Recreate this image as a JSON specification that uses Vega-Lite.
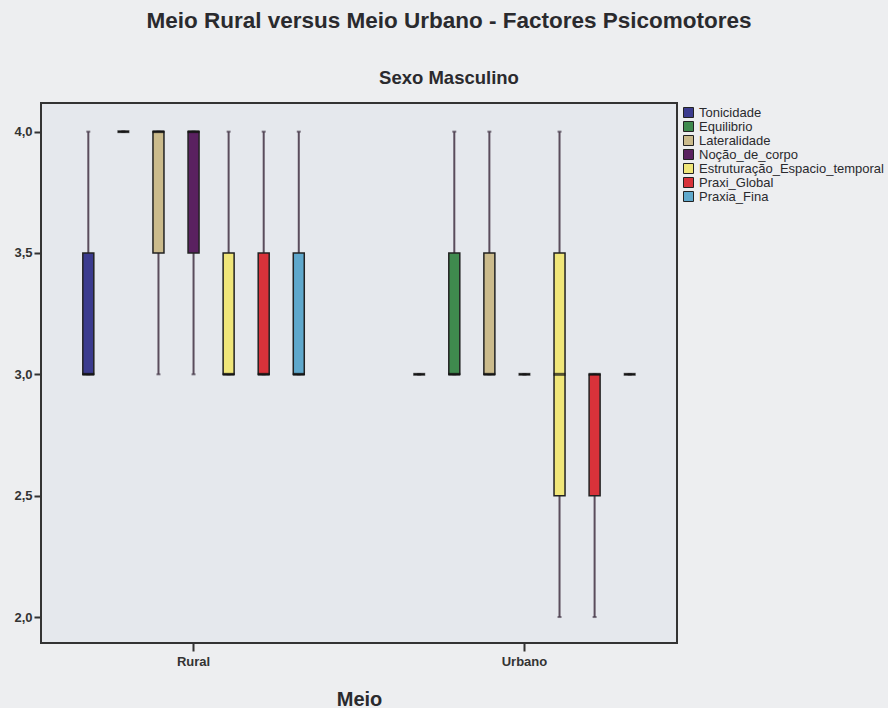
{
  "$schema": "https://vega.github.io/schema/vega-lite/v6.json",
  "autosize": {"type": "none"},
  "width": 636,
  "height": 540,
  "padding": {"left": 41, "top": 103, "right": 211, "bottom": 65},
  "background": "#edeef0",
  "title": {
    "text": "Meio Rural versus Meio Urbano - Factores Psicomotores",
    "subtitle": "Sexo Masculino",
    "font": "Liberation Sans",
    "subtitleFont": "Liberation Sans",
    "fontSize": 22.5,
    "subtitleFontSize": 18.5,
    "fontWeight": "bold",
    "subtitleFontWeight": "bold",
    "color": "#2a2a2e",
    "subtitleColor": "#2a2a2e",
    "anchor": "middle",
    "frame": "group",
    "dx": 90,
    "offset": 16,
    "subtitlePadding": 36
  },
  "data": {
    "values": [
      {"meio": "Rural", "fator": "Tonicidade", "min": 3, "q1": 3, "med": 3, "q3": 3.5, "max": 4},
      {"meio": "Rural", "fator": "Equilibrio", "min": 4, "q1": 4, "med": 4, "q3": 4, "max": 4},
      {"meio": "Rural", "fator": "Lateralidade", "min": 3, "q1": 3.5, "med": 4, "q3": 4, "max": 4},
      {"meio": "Rural", "fator": "Noção_de_corpo", "min": 3, "q1": 3.5, "med": 4, "q3": 4, "max": 4},
      {"meio": "Rural", "fator": "Estruturação_Espacio_temporal", "min": 3, "q1": 3, "med": 3, "q3": 3.5, "max": 4},
      {"meio": "Rural", "fator": "Praxi_Global", "min": 3, "q1": 3, "med": 3, "q3": 3.5, "max": 4},
      {"meio": "Rural", "fator": "Praxia_Fina", "min": 3, "q1": 3, "med": 3, "q3": 3.5, "max": 4},
      {"meio": "Urbano", "fator": "Tonicidade", "min": 3, "q1": 3, "med": 3, "q3": 3, "max": 3},
      {"meio": "Urbano", "fator": "Equilibrio", "min": 3, "q1": 3, "med": 3, "q3": 3.5, "max": 4},
      {"meio": "Urbano", "fator": "Lateralidade", "min": 3, "q1": 3, "med": 3, "q3": 3.5, "max": 4},
      {"meio": "Urbano", "fator": "Noção_de_corpo", "min": 3, "q1": 3, "med": 3, "q3": 3, "max": 3},
      {"meio": "Urbano", "fator": "Estruturação_Espacio_temporal", "min": 2, "q1": 2.5, "med": 3, "q3": 3.5, "max": 4},
      {"meio": "Urbano", "fator": "Praxi_Global", "min": 2, "q1": 2.5, "med": 3, "q3": 3, "max": 3},
      {"meio": "Urbano", "fator": "Praxia_Fina", "min": 3, "q1": 3, "med": 3, "q3": 3, "max": 3}
    ]
  },
  "encoding": {
    "x": {
      "field": "meio",
      "type": "nominal",
      "title": "Meio",
      "scale": {"paddingInner": 0.258, "paddingOuter": 0.09},
      "axis": {
        "labelAngle": 0,
        "labelFont": "Liberation Sans",
        "labelFontSize": 13,
        "labelFontWeight": "bold",
        "labelColor": "#333333",
        "labelPadding": 4,
        "tickColor": "#333333",
        "tickSize": 8,
        "tickWidth": 2,
        "domain": false,
        "titleFont": "Liberation Sans",
        "titleFontSize": 20,
        "titleFontWeight": "bold",
        "titleColor": "#2a2a2e",
        "titlePadding": 21
      }
    },
    "xOffset": {
      "field": "fator",
      "type": "nominal",
      "sort": ["Tonicidade", "Equilibrio", "Lateralidade", "Noção_de_corpo", "Estruturação_Espacio_temporal", "Praxi_Global", "Praxia_Fina"],
      "scale": {"paddingInner": 0, "paddingOuter": 0}
    }
  },
  "layer": [
    {
      "mark": {"type": "rule", "color": "#5a4c5c", "strokeWidth": 2},
      "encoding": {
        "y": {
          "field": "min",
          "type": "quantitative",
          "scale": {"domain": [1.893, 4.118], "nice": false, "zero": false},
          "axis": {
            "title": null,
            "values": [2, 2.5, 3, 3.5, 4],
            "labelExpr": "replace(format(datum.value, '.1f'), '.', ',')",
            "labelFont": "Liberation Sans",
            "labelFontSize": 13,
            "labelFontWeight": "bold",
            "labelColor": "#333333",
            "labelPadding": 2,
            "tickColor": "#333333",
            "tickSize": 7,
            "tickWidth": 2,
            "grid": false,
            "domain": false
          }
        },
        "y2": {"field": "max"}
      }
    },
    {
      "mark": {"type": "tick", "color": "#4a3e4e", "size": 4, "thickness": 2},
      "encoding": {"y": {"field": "min", "type": "quantitative"}}
    },
    {
      "mark": {"type": "tick", "color": "#4a3e4e", "size": 4, "thickness": 2},
      "encoding": {"y": {"field": "max", "type": "quantitative"}}
    },
    {
      "mark": {"type": "bar", "size": 11, "stroke": "#222222", "strokeWidth": 1.5},
      "encoding": {
        "y": {"field": "q1", "type": "quantitative"},
        "y2": {"field": "q3"},
        "color": {
          "field": "fator",
          "type": "nominal",
          "scale": {
            "domain": ["Tonicidade", "Equilibrio", "Lateralidade", "Noção_de_corpo", "Estruturação_Espacio_temporal", "Praxi_Global", "Praxia_Fina"],
            "range": ["#3b3b8e", "#3f8a4e", "#cbbb8c", "#5a2160", "#f0e679", "#d8323a", "#5fa8cc"]
          },
          "legend": {
            "title": null,
            "orient": "none",
            "legendX": 641,
            "legendY": 3,
            "symbolType": "square",
            "symbolSize": 100,
            "symbolStrokeColor": "#222222",
            "symbolStrokeWidth": 1,
            "symbolOpacity": 1,
            "labelFont": "Liberation Sans",
            "labelFontSize": 13,
            "labelColor": "#2a2a2e",
            "labelOffset": 4,
            "rowPadding": -1.5,
            "labelLimit": 250
          }
        }
      }
    },
    {
      "mark": {"type": "tick", "color": "#111111", "size": 12, "thickness": 3},
      "encoding": {"y": {"field": "med", "type": "quantitative"}}
    }
  ],
  "config": {
    "view": {"fill": "#e5e8ed", "stroke": "#333333", "strokeWidth": 2}
  }
}
